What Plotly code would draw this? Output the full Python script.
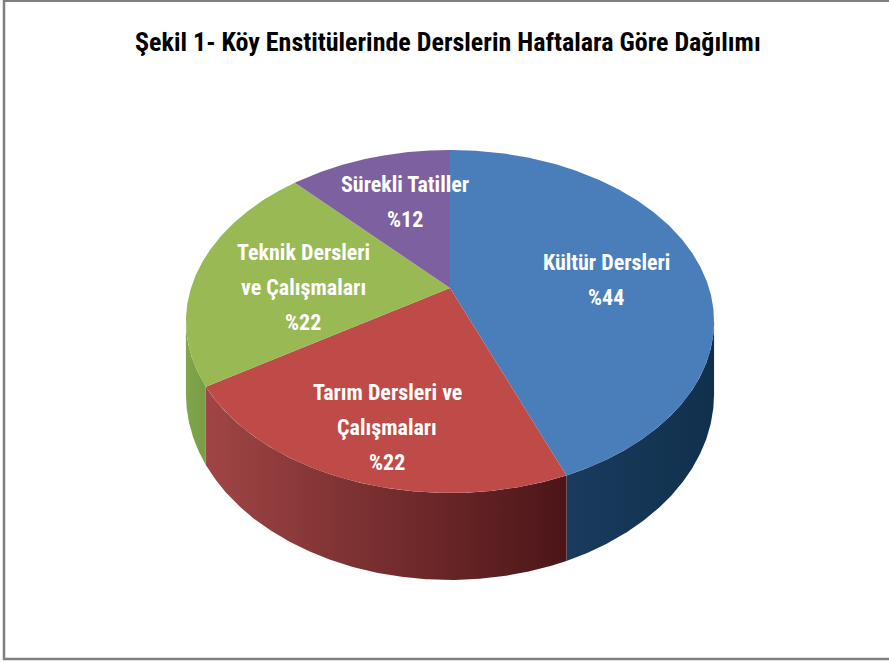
import numpy as np
import plotly.graph_objects as go

# ---- data ----
categories = ["Kültür Dersleri", "Tarım Dersleri ve Çalışmaları",
              "Teknik Dersleri ve Çalışmaları", "Sürekli Tatiller"]
values = [44, 22, 22, 12]
label_lines = [["Kültür Dersleri"], ["Tarım Dersleri ve", "Çalışmaları"],
               ["Teknik Dersleri", "ve Çalışmaları"], ["Sürekli Tatiller"]]
pct_labels = ["%44", "%22", "%22", "%12"]
title = "Şekil 1- Köy Enstitülerinde Derslerin Haftalara Göre Dağılımı"

# ---- style / layout ----
W, H = 889, 662
top_colors = ["#4a7ebb", "#be4b48", "#98b954", "#7d60a0"]
side_scales = [
    [[0, "#1a3b5e"], [1, "#10304c"]],
    [[0, "#a04545"], [1, "#4c1518"]],
    [[0, "#7fa64a"], [1, "#789d45"]],
    [[0, "#5f4a7c"], [1, "#4f3d68"]],
]
CX, CY = 450.0, 288.0      # apex of slices on screen
SX, SY = 259.0, 165.0      # projection scale
K = 0.195                  # perspective factor
DEPTH = 70.0               # pie thickness
label_pos = [(606, 279.5), (387, 427), (303, 287), (405, 201.5)]
LINE_GAP = 35
FONT = "Liberation Sans Narrow, Arial Narrow, Roboto Condensed, sans-serif"


def proj(phi_deg, r=1.0, down=0.0):
    p = np.radians(phi_deg)
    u = r * np.sin(p)
    v = -r * np.cos(p)
    w = 1 - K * v
    return CX + SX * u / w, CY + SY * v / w + down / w


total = sum(values)
bounds = np.concatenate([[0], np.cumsum(values) / total * 360])
vis_lo = np.degrees(np.arccos(-K))
vis_hi = 360 - vis_lo

fig = go.Figure()

# sides (front visible part only)
for i in range(len(values)):
    a, b = max(bounds[i], vis_lo), min(bounds[i + 1], vis_hi)
    if b <= a:
        continue
    phis = np.linspace(a, b, 200)
    xt, yt = proj(phis)
    xb, yb = proj(phis[::-1], down=DEPTH)
    fig.add_trace(go.Scatter(
        x=np.concatenate([xt, xb]), y=np.concatenate([yt, yb]),
        mode="lines", fill="toself", line=dict(width=0),
        fillgradient=dict(type="horizontal", colorscale=side_scales[i]),
        hoverinfo="skip", showlegend=False))

# top faces
for i in range(len(values)):
    phis = np.linspace(bounds[i], bounds[i + 1], 300)
    xt, yt = proj(phis)
    fig.add_trace(go.Scatter(
        x=np.concatenate([[CX], xt, [CX]]), y=np.concatenate([[CY], yt, [CY]]),
        mode="lines", fill="toself", fillcolor=top_colors[i],
        line=dict(width=0), name=categories[i],
        text=f"{categories[i]}: {pct_labels[i]}", hoverinfo="text",
        showlegend=False))

# labels
annotations = []
for i in range(len(values)):
    lines = label_lines[i] + [pct_labels[i]]
    lx, ly = label_pos[i]
    n = len(lines)
    for j, t in enumerate(lines):
        annotations.append(dict(
            x=lx, y=ly + (j - (n - 1) / 2) * LINE_GAP, xref="x", yref="y",
            text=f"<b>{t}</b>", showarrow=False,
            font=dict(family=FONT, size=22, color="white"),
            xanchor="center", yanchor="middle"))

annotations.append(dict(
    x=448, y=42, xref="x", yref="y", text=f"<b>{title}</b>", showarrow=False,
    font=dict(family=FONT, size=26, color="black"),
    xanchor="center", yanchor="middle"))

shapes = [
    dict(type="line", x0=4, x1=4, y0=0, y1=660, xref="x", yref="y",
         line=dict(color="#7f7f7f", width=2.5)),
    dict(type="line", x0=3, x1=W, y0=1, y1=1, xref="x", yref="y",
         line=dict(color="#7f7f7f", width=2)),
    dict(type="line", x0=3, x1=W, y0=659, y1=659, xref="x", yref="y",
         line=dict(color="#7f7f7f", width=2.5)),
]

fig.update_layout(
    width=W, height=H, margin=dict(l=0, r=0, t=0, b=0),
    paper_bgcolor="white", plot_bgcolor="white",
    xaxis=dict(range=[0, W], visible=False, fixedrange=True),
    yaxis=dict(range=[H, 0], visible=False, fixedrange=True),
    annotations=annotations, shapes=shapes, showlegend=False)

fig.write_html("out.html", config={"displayModeBar": False},
               post_script="document.body.style.margin='0';document.body.style.padding='0';")
